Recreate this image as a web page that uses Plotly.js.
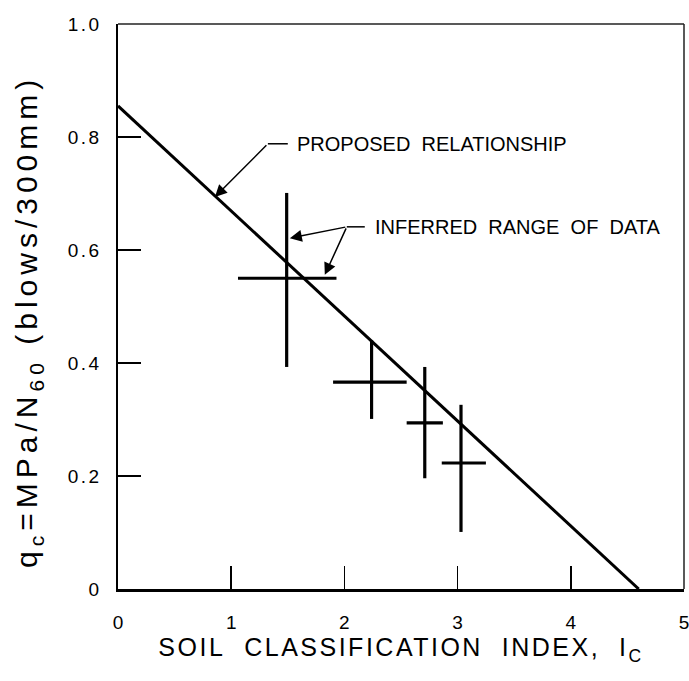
<!DOCTYPE html>
<html>
<head>
<meta charset="utf-8">
<script src="https://cdn.plot.ly/plotly-3.0.1.min.js"></script>
<style>
  html, body { margin: 0; padding: 0; background: #fff; }
  #chart { width: 689px; height: 681px; }
  .ytick text { letter-spacing: 2.5px; }
  .xtitle { letter-spacing: 2.5px; }
  .y-title-note text { letter-spacing: 5px; }
</style>
</head>
<body>
<div id="chart"></div>
<script>
// Proposed relationship: qc/N60 falls linearly with Ic
const lineIc = [0, 4.6];
const lineRatio = [0.855, 0];

// Inferred ranges of data: centre of each cross and its bounds
const rangeIc = [1.49, 2.24, 2.71, 3.03];
const rangeRatio = [0.55, 0.366, 0.294, 0.223];
const icLow = [1.06, 1.90, 2.55, 2.86];
const icHigh = [1.93, 2.55, 2.87, 3.25];
const ratioLow = [0.393, 0.301, 0.196, 0.101];
const ratioHigh = [0.701, 0.44, 0.393, 0.326];

// Tick labels
const xTickVals = [0, 1, 2, 3, 4, 5];
const xTickText = ['0', '1', '2', '3', '4', '5'];
const yTickVals = [0, 0.2, 0.4, 0.6, 0.8, 1.0];
const yTickText = ['0', '0.2', '0.4', '0.6', '0.8', '1.0'];

// Callouts: label text, where the label sits, leader corner, arrow tips
const noteText = ['PROPOSED\u00a0\u00a0RELATIONSHIP', 'INFERRED\u00a0\u00a0RANGE\u00a0\u00a0OF\u00a0\u00a0DATA'];
const noteTextX = [1.56, 2.25];
const noteY = [0.788, 0.641];
const noteCornerX = [1.324, 2.021];
const noteLeaderEndX = [1.50, 2.18];
const arrowTipX = [[0.856], [1.518, 1.827]];
const arrowTipY = [[0.694], [0.621, 0.556]];

const INK = '#000';
const FONT = 'Liberation Sans, Arial, Helvetica, sans-serif';

const traces = [
  {
    type: 'scatter', mode: 'lines',
    x: lineIc, y: lineRatio,
    line: { color: INK, width: 3 },
    hoverinfo: 'skip', showlegend: false
  },
  {
    type: 'scatter', mode: 'markers',
    x: rangeIc, y: rangeRatio,
    marker: { size: 1, color: 'rgba(0,0,0,0)' },
    error_x: {
      type: 'data', symmetric: false,
      array: icHigh.map((v, i) => v - rangeIc[i]),
      arrayminus: rangeIc.map((v, i) => v - icLow[i]),
      width: 0, thickness: 3.2, color: INK
    },
    error_y: {
      type: 'data', symmetric: false,
      array: ratioHigh.map((v, i) => v - rangeRatio[i]),
      arrayminus: rangeRatio.map((v, i) => v - ratioLow[i]),
      width: 0, thickness: 3.2, color: INK
    },
    hoverinfo: 'skip', showlegend: false
  }
];

const annotations = [];
const shapes = [];
noteText.forEach((t, i) => {
  annotations.push({
    x: noteTextX[i], y: noteY[i], xref: 'x', yref: 'y',
    text: t, showarrow: false, xanchor: 'left', yanchor: 'middle',
    font: { family: FONT, size: 20, color: INK }
  });
  shapes.push({
    type: 'line', xref: 'x', yref: 'y',
    x0: noteCornerX[i], x1: noteLeaderEndX[i], y0: noteY[i], y1: noteY[i],
    line: { color: INK, width: 1.5 }
  });
  arrowTipX[i].forEach((tx, j) => {
    annotations.push({
      x: tx, y: arrowTipY[i][j], xref: 'x', yref: 'y',
      ax: noteCornerX[i], ay: noteY[i], axref: 'x', ayref: 'y',
      text: '', showarrow: true,
      arrowhead: 2, arrowsize: 1.6, arrowwidth: 1.5, arrowcolor: INK
    });
  });
});

// vertical axis title, set a little below the middle of the axis
annotations.push({
  xref: 'paper', yref: 'paper', x: -0.157, y: 0.473,
  xanchor: 'center', yanchor: 'middle', textangle: -90, showarrow: false,
  text: 'q<sub>c</sub>=MPa/N<sub>60</sub> (blows/300mm)',
  font: { family: FONT, size: 30, color: INK },
  name: 'y-title'
});

// thin top and right edges of the frame
shapes.push({ type: 'line', xref: 'paper', yref: 'paper', x0: 0, x1: 1, y0: 1, y1: 1,
  line: { color: '#222', width: 1.5 } });
shapes.push({ type: 'line', xref: 'paper', yref: 'paper', x0: 1, x1: 1, y0: 0, y1: 1,
  line: { color: '#222', width: 1.5 } });

const layout = {
  width: 689, height: 681,
  margin: { l: 118, r: 5, t: 24, b: 92 },
  paper_bgcolor: '#fff', plot_bgcolor: '#fff',
  font: { family: FONT, color: INK },
  showlegend: false,
  xaxis: {
    range: [0, 5], tickmode: 'array', tickvals: xTickVals, ticktext: xTickText,
    ticks: 'inside', ticklen: 23, tickwidth: 1.5, tickcolor: INK,
    showline: true, linewidth: 2.5, linecolor: INK,
    showgrid: false, zeroline: false,
    tickfont: { family: FONT, size: 19, color: INK },
    ticklabelstandoff: 15, ticklabeloverflow: 'allow',
    title: { text: 'SOIL\u00a0\u00a0CLASSIFICATION\u00a0\u00a0INDEX,\u00a0\u00a0I<sub>C</sub>',
      font: { family: FONT, size: 25, color: INK }, standoff: 6 }
  },
  yaxis: {
    range: [0, 1], tickmode: 'array', tickvals: yTickVals, ticktext: yTickText,
    ticks: 'inside', ticklen: 23, tickwidth: 1.5, tickcolor: INK,
    showline: true, linewidth: 2.5, linecolor: INK,
    showgrid: false, zeroline: false,
    tickfont: { family: FONT, size: 19, color: INK },
    ticklabelstandoff: 10, ticklabeloverflow: 'allow'
  },
  annotations: annotations,
  shapes: shapes
};

Plotly.newPlot('chart', traces, layout, { staticPlot: true, displayModeBar: false }).then(gd => {
  // widen the letter spacing of the vertical axis title
  const notes = gd.querySelectorAll('.annotation');
  notes[notes.length - 1].classList.add('y-title-note');
});
</script>
</body>
</html>
